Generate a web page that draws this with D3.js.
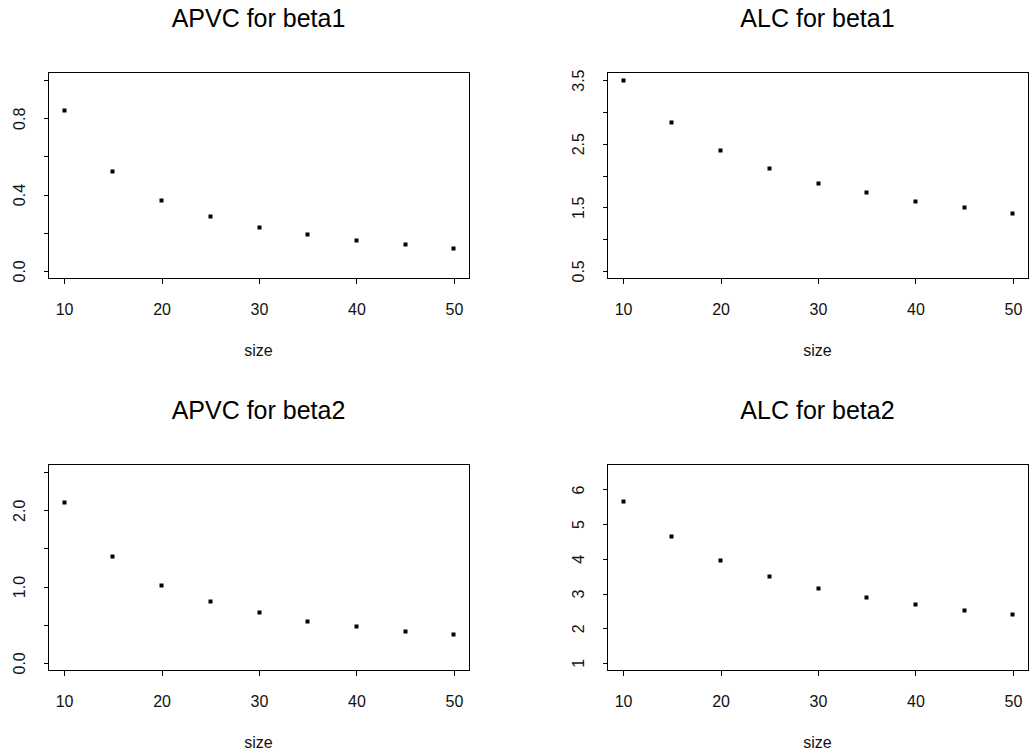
<!DOCTYPE html>
<html>
<head>
<meta charset="utf-8">
<script src="https://cdn.jsdelivr.net/npm/d3@7"></script>
<style>
  body { margin: 0; background: #fff; }
  svg { display: block; font-family: "Liberation Sans", Arial, sans-serif; }
  .axis path, .axis line, .box { shape-rendering: crispEdges; }
</style>
</head>
<body>
<div id="chart"></div>
<script>
// sample sizes on the x axis
const sizes = [10, 15, 20, 25, 30, 35, 40, 45, 50];
const xTicks = [10, 20, 30, 40, 50];

// values
const apvcBeta1 = [0.841, 0.519, 0.370, 0.287, 0.230, 0.190, 0.158, 0.139, 0.119];
const alcBeta1 = [3.50, 2.83, 2.40, 2.11, 1.88, 1.725, 1.59, 1.49, 1.40];
const apvcBeta2 = [2.10, 1.39, 1.02, 0.80, 0.654, 0.54, 0.479, 0.417, 0.368];
const alcBeta2 = [5.64, 4.65, 3.95, 3.49, 3.14, 2.89, 2.68, 2.50, 2.40];

// y limits, tick positions and which ticks carry a label
const ylim1 = [0, 1], yTicks1 = [0, 0.2, 0.4, 0.6, 0.8, 1.0], yLab1 = ['0.0', '0.4', '0.8'];
const ylim2 = [0.5, 3.5], yTicks2 = [0.5, 1, 1.5, 2, 2.5, 3, 3.5], yLab2 = ['0.5', '1.5', '2.5', '3.5'];
const ylim3 = [0, 2.5], yTicks3 = [0, 0.5, 1, 1.5, 2, 2.5], yLab3 = ['0.0', '1.0', '2.0'];
const ylim4 = [1, 6.5], yTicks4 = [1, 2, 3, 4, 5, 6], yLab4 = ['1', '2', '3', '4', '5', '6'];

const panels = [
  { title: 'APVC for beta1', values: apvcBeta1, ylim: ylim1, ticks: yTicks1, labels: yLab1, left: 48, top: 72 },
  { title: 'ALC for beta1', values: alcBeta1, ylim: ylim2, ticks: yTicks2, labels: yLab2, left: 607, top: 72 },
  { title: 'APVC for beta2', values: apvcBeta2, ylim: ylim3, ticks: yTicks3, labels: yLab3, left: 48, top: 464 },
  { title: 'ALC for beta2', values: alcBeta2, ylim: ylim4, ticks: yTicks4, labels: yLab4, left: 607, top: 464 },
];

const width = 1029, height = 754;
const pw = 421, ph = 206;

const svg = d3.select('#chart').append('svg')
  .attr('width', width)
  .attr('height', height);

// R style: pad the range by 4% on each side
function pad(lim) {
  const d = (lim[1] - lim[0]) * 0.04;
  return [lim[0] - d, lim[1] + d];
}

panels.forEach(p => {
  const g = svg.append('g').attr('transform', `translate(${p.left}, ${p.top})`);

  const x = d3.scaleLinear().domain(pad([10, 50])).range([0, pw]);
  const y = d3.scaleLinear().domain(pad(p.ylim)).range([ph, 0]);

  g.append('rect')
    .attr('class', 'box')
    .attr('x', 0.5).attr('y', 0.5)
    .attr('width', pw).attr('height', ph)
    .attr('fill', 'none')
    .attr('stroke', '#000');

  const xAxis = g.append('g')
    .attr('class', 'axis')
    .attr('transform', `translate(0.5, ${ph + 0.5})`)
    .call(d3.axisBottom(x).tickValues(xTicks).tickSize(5).tickPadding(20).tickSizeOuter(0));
  xAxis.select('.domain').remove();
  xAxis.selectAll('line').attr('stroke', '#000');
  xAxis.selectAll('text')
    .attr('font-size', 16)
    .attr('font-family', '"Liberation Sans", Arial, sans-serif')
    .attr('fill', '#111');

  const fmt = v => {
    const s = p.labels.find(l => Math.abs(+l - v) < 1e-9);
    return s === undefined ? '' : s;
  };
  const yAxis = g.append('g')
    .attr('class', 'axis')
    .attr('transform', 'translate(0.5, 0.5)')
    .call(d3.axisLeft(y).tickValues(p.ticks).tickSize(5).tickFormat(fmt).tickSizeOuter(0));
  yAxis.select('.domain').remove();
  yAxis.selectAll('line').attr('stroke', '#000');
  yAxis.selectAll('text')
    .attr('font-size', 16)
    .attr('font-family', '"Liberation Sans", Arial, sans-serif')
    .attr('fill', '#111')
    .attr('text-anchor', 'middle')
    .attr('x', 0)
    .attr('y', -24)
    .attr('dy', 0)
    .attr('transform', 'rotate(-90)');

  g.append('text')
    .attr('x', pw / 2)
    .attr('y', -45)
    .attr('text-anchor', 'middle')
    .attr('font-size', 25)
    .attr('fill', '#000')
    .text(p.title);

  g.append('text')
    .attr('x', pw / 2)
    .attr('y', ph + 78)
    .attr('text-anchor', 'middle')
    .attr('font-size', 16)
    .attr('fill', '#111')
    .text('size');

  g.append('g')
    .selectAll('rect')
    .data(sizes.map((s, i) => ({ s, v: p.values[i] })))
    .enter()
    .append('rect')
    .attr('x', d => Math.round(x(d.s)) - 1.5)
    .attr('y', d => Math.round(y(d.v)) - 1.5)
    .attr('width', 4)
    .attr('height', 4)
    .attr('fill', '#000');
});
</script>
</body>
</html>
